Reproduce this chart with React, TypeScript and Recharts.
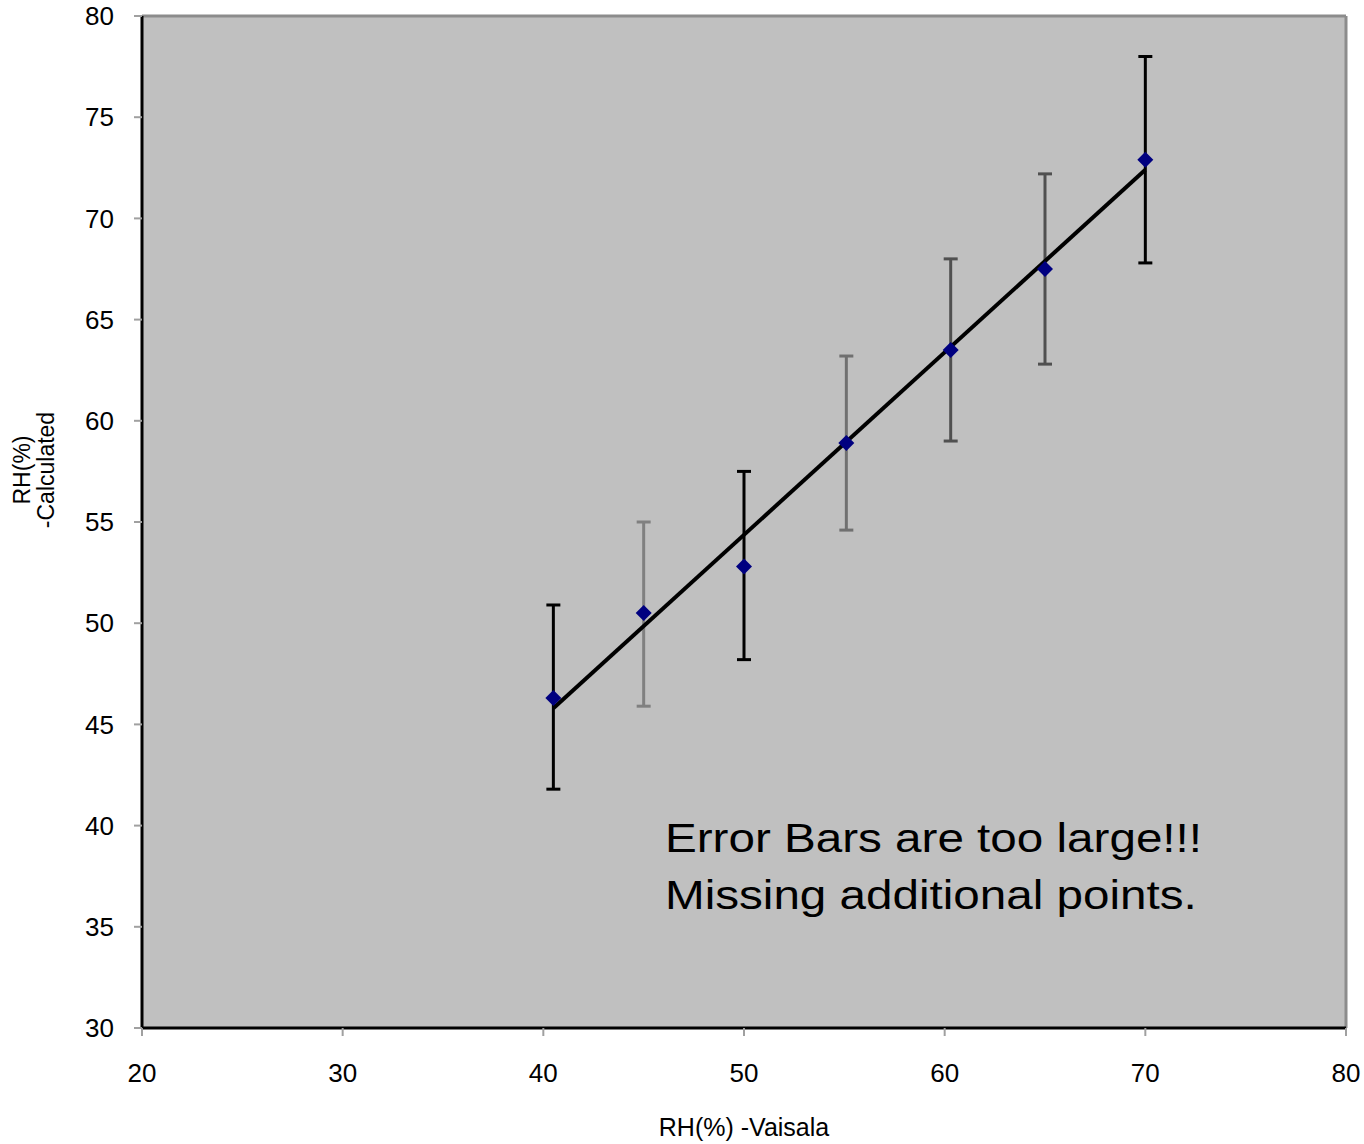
import {
  ScatterChart,
  Scatter,
  XAxis,
  YAxis,
  CartesianGrid,
  ErrorBar,
  ReferenceLine,
} from 'recharts';

// Data
const vaisala = [40.5, 45, 50, 55.1, 60.3, 65, 70];
const calculated = [46.3, 50.5, 52.8, 58.9, 63.5, 67.5, 72.9];
const errTop = [50.9, 55.0, 57.5, 63.2, 68.0, 72.2, 78.0];
const errBottom = [41.8, 45.9, 48.2, 54.6, 59.0, 62.8, 67.8];
const errColors = ['#000000', '#808080', '#000000', '#707070', '#505050', '#505050', '#000000'];

const trendX = [40.5, 70];
const trendY = [45.8, 72.4];

const xTicks = [20, 30, 40, 50, 60, 70, 80];
const yTicks = [30, 35, 40, 45, 50, 55, 60, 65, 70, 75, 80];

const FONT = '"Liberation Sans", Arial, sans-serif';

const points = vaisala.map((x, i) => ({
  x,
  y: calculated[i],
  err: [calculated[i] - errBottom[i], errTop[i] - calculated[i]],
}));

const trend = trendX.map((x, i) => ({ x, y: trendY[i] }));

// navy diamond marker
const Diamond = (props: any) => {
  const { cx, cy } = props;
  const s = 8;
  return (
    <polygon
      points={`${cx},${cy - s} ${cx + s},${cy} ${cx},${cy + s} ${cx - s},${cy}`}
      fill="#000080"
    />
  );
};

const Nothing = () => <g />;

const YLabel = (props: any) => {
  const { viewBox } = props;
  const cy = viewBox.y + viewBox.height / 2 - 52;
  const x1 = viewBox.x + 22;
  const x2 = viewBox.x + 46;
  return (
    <g fontFamily={FONT} fontSize={23} fill="#000">
      <text x={x1} y={cy} textAnchor="middle" dominantBaseline="central" transform={`rotate(-90, ${x1}, ${cy})`}>
        RH(%)
      </text>
      <text x={x2} y={cy} textAnchor="middle" dominantBaseline="central" transform={`rotate(-90, ${x2}, ${cy})`}>
        -Calculated
      </text>
    </g>
  );
};

export default function App() {
  return (
    <div style={{ position: 'absolute', left: 0, top: 0, width: 1364, height: 1144, background: '#fff' }}>
      <ScatterChart width={1364} height={1144} margin={{ top: 16, right: 18, bottom: 0, left: 0 }}>
        <CartesianGrid horizontal={false} vertical={false} fill="#C0C0C0" />
        <ReferenceLine y={80} stroke="#8c8c8c" strokeWidth={3} />
        <ReferenceLine x={80} stroke="#8c8c8c" strokeWidth={3} />
        <XAxis
          type="number"
          dataKey="x"
          domain={[20, 80]}
          ticks={xTicks}
          height={116}
          axisLine={{ stroke: '#000', strokeWidth: 3 }}
          tickLine={{ stroke: '#a0a0a0', strokeWidth: 2 }}
          tickSize={8}
          tickMargin={28}
          tick={{ fill: '#000', fontSize: 26, fontFamily: FONT }}
          interval={0}
          label={{ value: 'RH(%) -Vaisala', position: 'insideBottom', offset: 8, fill: '#000', fontSize: 25, fontFamily: FONT }}
        />
        <YAxis
          type="number"
          dataKey="y"
          domain={[30, 80]}
          ticks={yTicks}
          width={142}
          axisLine={{ stroke: '#000', strokeWidth: 3 }}
          tickLine={{ stroke: '#a0a0a0', strokeWidth: 2 }}
          tickSize={8}
          tickMargin={20}
          tick={{ fill: '#000', fontSize: 26, fontFamily: FONT }}
          interval={0}
          label={<YLabel />}
        />
        {points.map((p, i) => (
          <Scatter key={i} data={[p]} shape={<Nothing />} isAnimationActive={false}>
            <ErrorBar dataKey="err" direction="y" width={7} stroke={errColors[i]} strokeWidth={3} isAnimationActive={false} />
          </Scatter>
        ))}
        <Scatter
          data={trend}
          line={{ stroke: '#000', strokeWidth: 4 }}
          shape={<Nothing />}
          isAnimationActive={false}
        />
        <Scatter data={points} shape={<Diamond />} isAnimationActive={false} />
      </ScatterChart>
      <div
        style={{
          position: 'absolute',
          left: 665,
          top: 810,
          fontFamily: FONT,
          fontSize: 40,
          lineHeight: '57px',
          color: '#000',
          whiteSpace: 'nowrap',
          transform: 'scaleX(1.19)',
          transformOrigin: 'left top',
        }}
      >
        Error Bars are too large!!!
        <br />
        Missing additional points.
      </div>
    </div>
  );
}
